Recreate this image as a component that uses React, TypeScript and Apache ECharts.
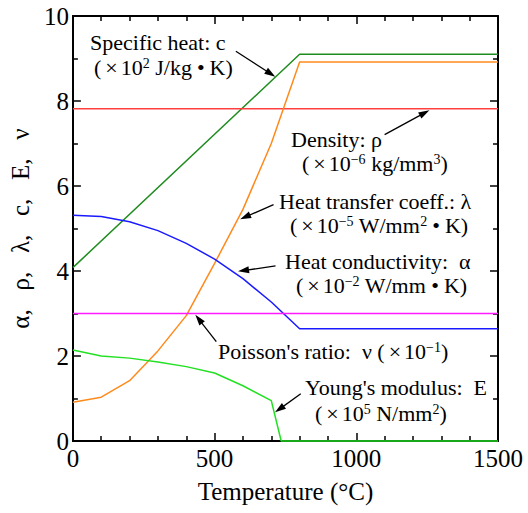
import React, { useEffect, useRef } from "react";
import * as echarts from "echarts";

// ---- data ----
const xMin = 0;
const xMax = 1500;
const xInterval = 500;
const yMin = 0;
const yMax = 10;
const yInterval = 2;

const stepTemps = [0, 100, 200, 300, 400, 500, 600, 700, 800, 1500];
const heatTransfer = [0.91, 1.03, 1.42, 2.12, 2.95, 4.18, 5.45, 7.0, 8.92, 8.92];
const conductivity = [5.31, 5.28, 5.16, 4.95, 4.65, 4.28, 3.82, 3.27, 2.64, 2.64];

const specificHeatTemps = [0, 800, 1500];
const specificHeat = [4.08, 9.1, 9.1];

const densityTemps = [0, 1500];
const density = [7.82, 7.82];

const poissonTemps = [0, 1500];
const poisson = [3.0, 3.0];

const youngTemps = [0, 100, 200, 300, 400, 500, 600, 700, 735, 1500];
const young = [2.14, 2.0, 1.95, 1.86, 1.75, 1.6, 1.3, 0.95, 0, 0];

// arrows: [fromT, fromV, toT, toV]
const arrows = [
  [575, 9.17, 698, 8.64],
  [1100, 7.21, 1241, 7.72],
  [708, 5.56, 608, 5.27],
  [715, 4.12, 602, 4.01],
  [506, 2.34, 444, 2.87],
  [804, 1.11, 729, 0.75],
];

const FONT = "serif";
const ANN = 22;

const zip = (xs: number[], ys: number[]) => xs.map((x, i) => [x, ys[i]]);

const rich = {
  s: { fontSize: 14, fontFamily: FONT, fill: "#000", lineHeight: 12, verticalAlign: "top" },
  x: { fontSize: ANN, fontFamily: FONT, fill: "#000", lineHeight: 22, padding: [0, 3, 0, 4] },
  d: { fontSize: ANN, fontFamily: FONT, fill: "#000", lineHeight: 22, padding: [0, 5, 0, 5] },
};

const ann = (x: number, y: number, text: string) => ({
  type: "text",
  x,
  y,
  silent: true,
  z: 100,
  style: {
    text,
    fontSize: ANN,
    fontFamily: FONT,
    lineHeight: 22,
    fill: "#000",
    textAlign: "left",
    textVerticalAlign: "middle",
    rich,
  },
});

export default function App() {
  const ref = useRef<HTMLDivElement>(null);
  useEffect(() => {
    if (!ref.current) return;
    document.body.style.margin = "0";
    const chart = echarts.init(ref.current, undefined, { renderer: "svg" });
    const axisLineStyle = { color: "#000", width: 2 };
    const tickStyle = { color: "#000", width: 1.5 };
    const labelStyle = {
      fontSize: 25,
      color: "#000",
      fontFamily: FONT,
      formatter: (v: number) => String(v),
    };

    const xBase = {
      type: "value",
      min: xMin,
      max: xMax,
      interval: xInterval,
      axisLine: { show: true, onZero: false, lineStyle: axisLineStyle },
      axisTick: { show: true, inside: true, length: 8, lineStyle: tickStyle },
      minorTick: { show: true, splitNumber: 5, length: 5, lineStyle: tickStyle },
      splitLine: { show: false },
      minorSplitLine: { show: false },
    };
    const yBase = {
      type: "value",
      min: yMin,
      max: yMax,
      interval: yInterval,
      axisLine: { show: true, onZero: false, lineStyle: axisLineStyle },
      axisTick: { show: true, inside: true, length: 8, lineStyle: tickStyle },
      minorTick: { show: true, splitNumber: 2, length: 5, lineStyle: tickStyle },
      splitLine: { show: false },
      minorSplitLine: { show: false },
    };

    const line = (name: string, data: number[][], color: string, extra: any = {}) => ({
      name,
      type: "line",
      data,
      showSymbol: false,
      symbol: "none",
      clip: false,
      silent: true,
      z: 5,
      lineStyle: { color, width: 1.5 },
      ...extra,
    });

    const option: any = {
      animation: false,
      textStyle: { fontFamily: FONT },
      grid: { left: 72, right: 30, top: 16, bottom: 72, containLabel: false },
      xAxis: [
        {
          ...xBase,
          position: "bottom",
          axisLabel: { ...labelStyle, margin: 5 },
          name: "Temperature (°C)",
          nameLocation: "middle",
          nameGap: 38,
          nameTextStyle: { fontSize: 25, color: "#000", fontFamily: FONT },
        },
        { ...xBase, position: "top", axisLabel: { show: false } },
      ],
      yAxis: [
        {
          ...yBase,
          position: "left",
          axisLabel: { ...labelStyle, margin: 4 },
          name: "α,   ρ,   λ,   c,   E,   ν",
          nameLocation: "middle",
          nameRotate: 90,
          nameGap: 38,
          nameTextStyle: { fontSize: 25, color: "#000", fontFamily: FONT },
        },
        { ...yBase, position: "right", axisLabel: { show: false } },
      ],
      series: [
        line("Specific heat", zip(specificHeatTemps, specificHeat), "#1e8c1e"),
        line("Density", zip(densityTemps, density), "#ff4040"),
        line("Heat transfer coeff.", zip(stepTemps, heatTransfer), "#ff8a1c"),
        line("Heat conductivity", zip(stepTemps, conductivity), "#1a1aff"),
        line("Poisson's ratio", zip(poissonTemps, poisson), "#ff1aff", {
          markLine: {
            silent: true,
            animation: false,
            symbol: ["none", "triangle"],
            symbolSize: [0, 10],
            label: { show: false },
            emphasis: { disabled: true },
            lineStyle: { color: "#000", width: 1.3, type: "solid" },
            data: arrows.map((a) => [
              { coord: [a[0], a[1]], symbol: "none" },
              { coord: [a[2], a[3]], symbol: "triangle", symbolSize: [7, 11] },
            ]),
          },
        }),
        line("Young's modulus", zip(youngTemps, young), "#22e022"),
      ],
      graphic: [
        ann(90, 42, "Specific heat: c"),
        ann(94, 67, "({x|×}10{s|2} J/kg{d|•}K)"),
        ann(291, 139, "Density: ρ"),
        ann(302, 163, "({x|×}10{s|−6} kg/mm{s|3})"),
        ann(279, 201, "Heat transfer coeff.: λ"),
        ann(290, 225, "({x|×}10{s|−5} W/mm{s|2}{d|•}K)"),
        ann(285, 261, "Heat conductivity:  α"),
        ann(296, 285, "({x|×}10{s|−2} W/mm{d|•}K)"),
        ann(218, 351, "Poisson's ratio:  ν ({x|×}10{s|−1})"),
        ann(305, 387, "Young's modulus:  E"),
        ann(315, 413, "({x|×}10{s|5} N/mm{s|2})"),
      ],
    };
    chart.setOption(option);
    let alive = true;
    const fonts = (document as any).fonts;
    if (fonts && fonts.ready) {
      fonts.ready
        .then(() => {
          if (alive) {
            chart.clear();
            chart.setOption(option);
          }
        })
        .catch(() => {});
    }
    return () => {
      alive = false;
      chart.dispose();
    };
  }, []);
  return <div ref={ref} style={{ width: 528, height: 513 }} />;
}
